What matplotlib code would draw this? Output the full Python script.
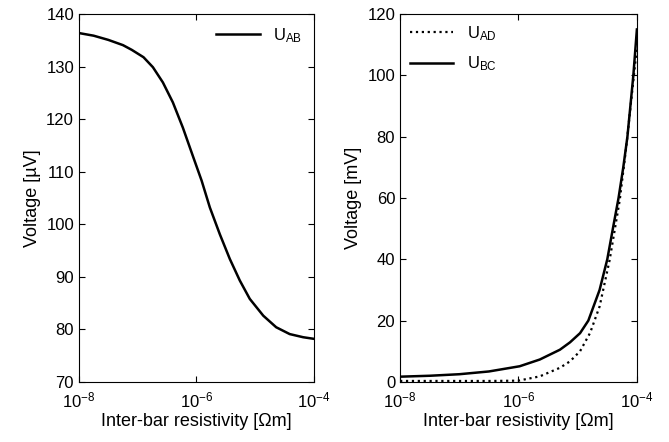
import matplotlib
matplotlib.use("Agg")
import matplotlib.pyplot as plt
import numpy as np

plt.rcParams['font.family'] = ['Liberation Sans', 'DejaVu Sans']
plt.rcParams['mathtext.fontset'] = 'custom'
plt.rcParams['mathtext.rm'] = 'Liberation Sans'
plt.rcParams['mathtext.default'] = 'regular'

# left panel: log10 of inter-bar resistivity and U_AB in uV
log_rho_ab = [-8, -7.75, -7.5, -7.25, -7.1, -6.9, -6.74, -6.57, -6.4, -6.23,
              -6.05, -5.91, -5.77, -5.6, -5.43, -5.26, -5.09, -4.86, -4.64,
              -4.41, -4.18, -4]
u_ab = [136.4, 135.9, 135.1, 134.1, 133.2, 131.8, 129.9, 127.0, 123.2, 118.4,
        112.7, 108.3, 103.2, 98.1, 93.4, 89.3, 85.8, 82.6, 80.4,
        79.1, 78.5, 78.2]

# right panel: U_AD and U_BC in mV
log_rho_ad = [-8, -7.5, -7, -6.5, -6, -5.64, -5.3, -5.13, -4.96, -4.79,
              -4.63, -4.46, -4.29, -4.18, -4.09, -4.03, -4]
u_ad = [0.3, 0.3, 0.3, 0.3, 0.4, 1.8, 4.6, 6.7, 10.0, 16.0,
        24.6, 39.8, 59.3, 76.6, 92.9, 103.7, 108.6]

log_rho_bc = [-8, -7.5, -7, -6.5, -5.98, -5.64, -5.3, -5.13, -4.96, -4.82,
              -4.63, -4.5, -4.4, -4.31, -4.23, -4.16, -4.11, -4.06, -4]
u_bc = [1.7, 2.0, 2.5, 3.4, 5.1, 7.3, 10.5, 12.9, 15.9, 20.0,
        30.0, 40.0, 50.6, 60.0, 70.0, 80.0, 90.0, 100.0, 115.0]

xticks = [1e-8, 1e-6, 1e-4]
xticklabels = ['$10^{-8}$', '$10^{-6}$', '$10^{-4}$']

fig = plt.figure(figsize=(6.69, 4.42), dpi=100)
ax1 = fig.add_axes([0.118, 0.136, 0.351, 0.832])
ax2 = fig.add_axes([0.598, 0.136, 0.354, 0.832])

ax1.plot(10.0 ** np.array(log_rho_ab), u_ab, color='black', lw=1.8, label='U$_{AB}$')
ax1.set_ylim(70, 140)
ax1.set_yticks(range(70, 141, 10))
ax1.set_ylabel('Voltage [µV]', fontsize=13)

ax2.plot(10.0 ** np.array(log_rho_ad), u_ad, color='black', lw=1.6, ls=':', label='U$_{AD}$')
ax2.plot(10.0 ** np.array(log_rho_bc), u_bc, color='black', lw=1.8, label='U$_{BC}$')
ax2.set_ylim(0, 120)
ax2.set_yticks(range(0, 121, 20))
ax2.set_ylabel('Voltage [mV]', fontsize=13)

for ax in (ax1, ax2):
    ax.set_xscale('log')
    ax.set_xlim(1e-8, 1e-4)
    ax.set_xticks(xticks)
    ax.set_xticklabels(xticklabels)
    ax.minorticks_off()
    ax.tick_params(direction='in', top=True, right=True, labelsize=12, length=4, width=0.8)
    ax.tick_params(axis='x', pad=6)
    ax.set_xlabel('Inter-bar resistivity [Ωm]', fontsize=13, labelpad=2)
    for sp in ax.spines.values():
        sp.set_linewidth(0.8)

ax1.legend(loc='upper right', frameon=False, fontsize=12, handlelength=2.6,
           borderaxespad=0.3, bbox_to_anchor=(1.0, 1.0))
ax2.legend(loc='upper left', frameon=False, fontsize=12, handlelength=2.6,
           labelspacing=0.7, borderaxespad=0.2)

fig.savefig('out.png', dpi=100)
